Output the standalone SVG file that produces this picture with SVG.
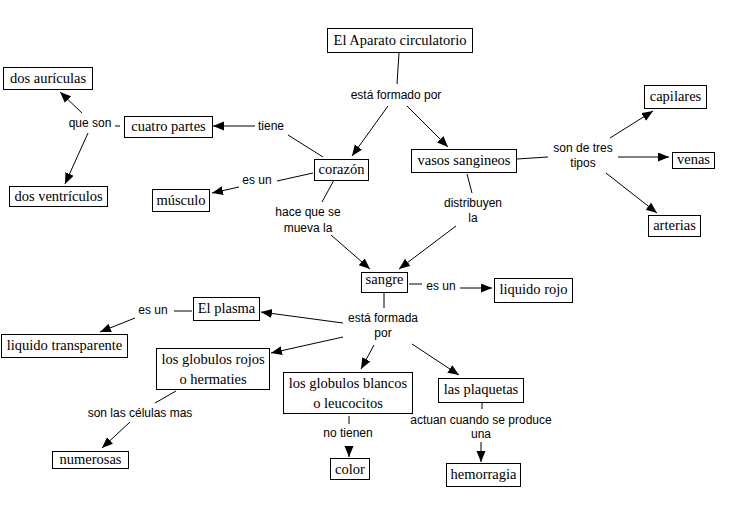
<svg xmlns="http://www.w3.org/2000/svg" width="754" height="527" viewBox="0 0 754 527">
<style>
.box{fill:#fff;stroke:#000;stroke-width:1}
.nt{font-family:"Liberation Serif","Times New Roman",serif;font-size:14.5px;fill:#000;text-anchor:middle}
.lt{font-family:"Liberation Sans",Arial,sans-serif;font-size:12px;fill:#000;text-anchor:middle}
.ln{stroke:#000;stroke-width:1;fill:none}
.ar{marker-end:url(#ah)}
</style>
<defs>
<marker id="ah" markerUnits="userSpaceOnUse" markerWidth="12" markerHeight="10" refX="11" refY="4.5" orient="auto">
<path d="M0,0 L11,4.5 L0,9 z" fill="#000"/>
</marker>
</defs>
<rect width="754" height="527" fill="#fff"/>
<g id="connectors">
<line class="ln" x1="399" y1="53" x2="397" y2="84"/>
<line class="ln ar" x1="388" y1="106" x2="352" y2="156"/>
<line class="ln ar" x1="407" y1="106" x2="448" y2="147"/>
<line class="ln" x1="323" y1="157" x2="288" y2="135"/>
<line class="ln ar" x1="255" y1="126" x2="213" y2="126"/>
<line class="ln" x1="115" y1="126" x2="120" y2="126"/>
<line class="ln ar" x1="82" y1="113" x2="60" y2="92"/>
<line class="ln ar" x1="88" y1="133" x2="65" y2="184"/>
<line class="ln" x1="313" y1="173" x2="277" y2="181"/>
<line class="ln ar" x1="239" y1="187" x2="212" y2="193"/>
<line class="ln" x1="334" y1="180" x2="322" y2="202"/>
<line class="ln ar" x1="331" y1="235" x2="370" y2="269"/>
<line class="ln" x1="517" y1="159" x2="548" y2="157"/>
<line class="ln ar" x1="610" y1="138" x2="653" y2="111"/>
<line class="ln ar" x1="618" y1="157" x2="669" y2="157"/>
<line class="ln ar" x1="606" y1="173" x2="657" y2="213"/>
<line class="ln" x1="467" y1="174" x2="472" y2="193"/>
<line class="ln ar" x1="456" y1="226" x2="399" y2="269"/>
<line class="ln" x1="409" y1="284" x2="422" y2="284"/>
<line class="ln ar" x1="460" y1="288" x2="492" y2="288"/>
<line class="ln" x1="384" y1="293" x2="384" y2="308"/>
<line class="ln ar" x1="343" y1="323" x2="261" y2="312"/>
<line class="ln ar" x1="343" y1="337" x2="271" y2="353"/>
<line class="ln ar" x1="374" y1="345" x2="361" y2="369"/>
<line class="ln ar" x1="412" y1="344" x2="459" y2="375"/>
<line class="ln" x1="192" y1="311" x2="174" y2="311"/>
<line class="ln ar" x1="135" y1="318" x2="100" y2="332"/>
<line class="ln" x1="176" y1="391" x2="155" y2="403"/>
<line class="ln ar" x1="130" y1="422" x2="102" y2="448"/>
<line class="ln" x1="349" y1="416" x2="349" y2="424"/>
<line class="ln ar" x1="349" y1="447" x2="349" y2="457"/>
<line class="ln" x1="482" y1="403" x2="482" y2="409"/>
<line class="ln ar" x1="481" y1="442" x2="481" y2="462"/>
</g>
<g id="labels">
<text class="lt" x="90" y="127">que son</text>
<text class="lt" x="271" y="130">tiene</text>
<text class="lt" x="257" y="184">es un</text>
<text class="lt" x="308" y="216">hace que se</text>
<text class="lt" x="308" y="232">mueva la</text>
<text class="lt" x="396" y="99">está formado por</text>
<text class="lt" x="583" y="152">son de tres</text>
<text class="lt" x="583" y="167">tipos</text>
<text class="lt" x="473" y="207">distribuyen</text>
<text class="lt" x="473" y="222">la</text>
<text class="lt" x="441" y="290">es un</text>
<text class="lt" x="383" y="322">está formada</text>
<text class="lt" x="383" y="337">por</text>
<text class="lt" x="153" y="314">es un</text>
<text class="lt" x="140" y="417">son las células mas</text>
<text class="lt" x="348" y="437">no tienen</text>
<text class="lt" x="481" y="424">actuan cuando se produce</text>
<text class="lt" x="481" y="438">una</text>
</g>
<g id="n-aparato"><rect class="box" x="327.5" y="28.5" width="145" height="24"/><text class="nt" x="400" y="45">El Aparato circulatorio</text></g>
<g id="n-auriculas"><rect class="box" x="3.5" y="67.5" width="89" height="22"/><text class="nt" x="48" y="83">dos aurículas</text></g>
<g id="n-cuatro"><rect class="box" x="124.5" y="116.5" width="88" height="21"/><text class="nt" x="168.5" y="131">cuatro partes</text></g>
<g id="n-ventriculos"><rect class="box" x="9.5" y="186.5" width="98" height="20"/><text class="nt" x="58.5" y="201">dos ventrículos</text></g>
<g id="n-corazon"><rect class="box" x="314.5" y="159.5" width="54" height="21"/><text class="nt" x="341.5" y="174">corazón</text></g>
<g id="n-musculo"><rect class="box" x="152.5" y="189.5" width="57" height="22"/><text class="nt" x="181" y="205">músculo</text></g>
<g id="n-vasos"><rect class="box" x="411.5" y="149.5" width="105" height="23"/><text class="nt" x="464" y="165">vasos sangineos</text></g>
<g id="n-capilares"><rect class="box" x="644.5" y="85.5" width="62" height="23"/><text class="nt" x="675.5" y="101">capilares</text></g>
<g id="n-venas"><rect class="box" x="672.5" y="152.5" width="42" height="16"/><text class="nt" x="693.5" y="164">venas</text></g>
<g id="n-arterias"><rect class="box" x="648.5" y="215.5" width="52" height="21"/><text class="nt" x="674.5" y="230">arterias</text></g>
<g id="n-sangre"><rect class="box" x="361.5" y="272.5" width="46" height="20"/><text class="nt" x="384.5" y="284">sangre</text></g>
<g id="n-liquidorojo"><rect class="box" x="494.5" y="278.5" width="78" height="24"/><text class="nt" x="533.5" y="294">liquido rojo</text></g>
<g id="n-plasma"><rect class="box" x="193.5" y="297.5" width="66" height="23"/><text class="nt" x="226.5" y="313">El plasma</text></g>
<g id="n-transparente"><rect class="box" x="1.5" y="334.5" width="126" height="23"/><text class="nt" x="64.5" y="350">liquido transparente</text></g>
<g id="n-rojos"><rect class="box" x="156.5" y="348.5" width="113" height="41"/><text class="nt" x="213" y="364">los globulos rojos</text><text class="nt" x="213" y="384">o hermaties</text></g>
<g id="n-blancos"><rect class="box" x="283.5" y="372.5" width="129" height="41"/><text class="nt" x="348" y="388">los globulos blancos</text><text class="nt" x="348" y="408">o leucocitos</text></g>
<g id="n-plaquetas"><rect class="box" x="438.5" y="378.5" width="85" height="24"/><text class="nt" x="481" y="394">las plaquetas</text></g>
<g id="n-numerosas"><rect class="box" x="52.5" y="451.5" width="76" height="17"/><text class="nt" x="90.5" y="464">numerosas</text></g>
<g id="n-color"><rect class="box" x="330.5" y="458.5" width="39" height="21"/><text class="nt" x="350" y="474">color</text></g>
<g id="n-hemorragia"><rect class="box" x="446.5" y="463.5" width="74" height="23"/><text class="nt" x="483.5" y="479">hemorragia</text></g>
</svg>
